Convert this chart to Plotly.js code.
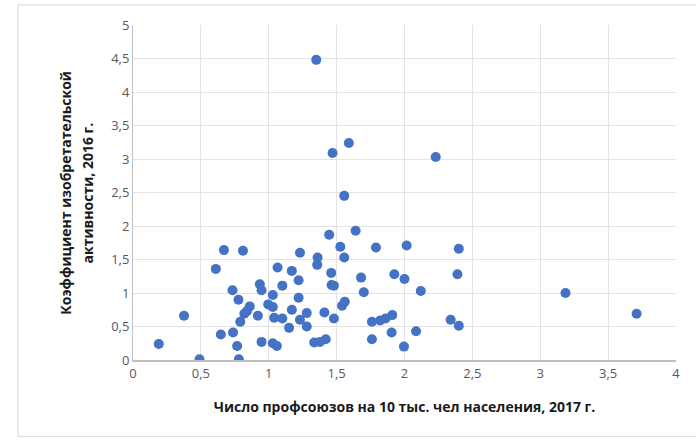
<!DOCTYPE html>
<html>
<head>
<meta charset="utf-8">
<script src="https://cdn.plot.ly/plotly-3.0.1.min.js"></script>
<style>
html,body{margin:0;padding:0;background:#fff;}
#chart{width:696px;height:441px;}
</style>
</head>
<body>
<div id="chart"></div>
<script>
const unions = [0.19,0.376,0.49,0.61,0.647,0.67,0.733,0.737,0.767,0.777,0.78,0.79,0.81,0.82,0.84,0.86,0.92,0.934,0.947,0.947,0.996,1.03,1.03,1.04,1.03,1.06,1.065,1.10,1.10,1.15,1.17,1.17,1.22,1.22,1.23,1.23,1.28,1.28,1.335,1.377,1.42,1.35,1.36,1.357,1.41,1.445,1.46,1.463,1.48,1.47,1.48,1.527,1.54,1.556,1.556,1.56,1.59,1.64,1.68,1.70,1.76,1.76,1.79,1.82,1.86,1.91,1.905,1.925,1.996,2.0,2.016,2.085,2.12,2.23,2.34,2.39,2.40,2.40,3.186,3.71];
const inventive = [0.24,0.66,0.01,1.36,0.38,1.64,1.04,0.41,0.21,0.90,0.01,0.57,1.63,0.69,0.73,0.80,0.66,1.13,1.04,0.27,0.83,0.97,0.79,0.63,0.25,0.21,1.38,1.11,0.62,0.48,1.33,0.75,1.19,0.93,1.60,0.60,0.70,0.50,0.26,0.27,0.31,4.48,1.53,1.42,0.71,1.87,1.30,1.12,1.11,3.09,0.62,1.69,0.81,2.45,1.53,0.87,3.24,1.93,1.23,1.01,0.57,0.31,1.68,0.59,0.62,0.67,0.41,1.28,0.20,1.21,1.71,0.43,1.03,3.03,0.60,1.28,1.66,0.51,1.00,0.69];
const xTicks = [0,0.5,1,1.5,2,2.5,3,3.5,4];
const yTicks = [0,0.5,1,1.5,2,2.5,3,3.5,4,4.5,5];
const xTitle = 'Число профсоюзов на 10 тыс. чел населения, 2017 г.';
const yTitleLines = ['Коэффициент изобретательской', 'активности, 2016 г.'];

const titleFont = {size: 14, color: '#1a1a1a', family: 'Open Sans, sans-serif', weight: 'bold'};
const trace = {
  x: unions, y: inventive, type: 'scatter', mode: 'markers',
  marker: {color: '#4472c4', size: 10, line: {width: 0}},
  hoverinfo: 'x+y'
};
const yTitleX = [-0.125, -0.083];
const layout = {
  width: 696, height: 441,
  margin: {l: 133, r: 20, t: 25, b: 81},
  paper_bgcolor: '#ffffff', plot_bgcolor: '#ffffff',
  separators: ', ',
  font: {family: 'Open Sans, sans-serif', color: '#595959', size: 13},
  showlegend: false,
  xaxis: {
    range: [0, 4], tickvals: xTicks, ticks: '', showgrid: true, gridcolor: '#e3e3e3', gridwidth: 1,
    zeroline: false, showline: true, linecolor: '#bfbfbf', linewidth: 2,
    tickfont: {size: 13, color: '#595959'},
    title: {text: xTitle, font: titleFont, standoff: 22}
  },
  yaxis: {
    range: [0, 5], tickvals: yTicks, ticks: '', showgrid: true, gridcolor: '#e3e3e3', gridwidth: 1,
    zeroline: false, showline: true, linecolor: '#bfbfbf', linewidth: 1,
    tickfont: {size: 13, color: '#595959'}
  },
  annotations: yTitleLines.map((t, i) => ({
    text: t, xref: 'paper', yref: 'paper', x: yTitleX[i], y: 0.5,
    xanchor: 'center', yanchor: 'middle', textangle: -90, showarrow: false,
    font: titleFont
  })),
  shapes: [{
    type: 'rect', xref: 'paper', yref: 'paper',
    x0: -0.212, x1: 1.05, y0: -0.228, y1: 1.06,
    line: {color: '#d9d9d9', width: 1}, fillcolor: 'rgba(0,0,0,0)', layer: 'below'
  }]
};
Plotly.newPlot('chart', [trace], layout, {displayModeBar: false, staticPlot: true});
</script>
</body>
</html>
